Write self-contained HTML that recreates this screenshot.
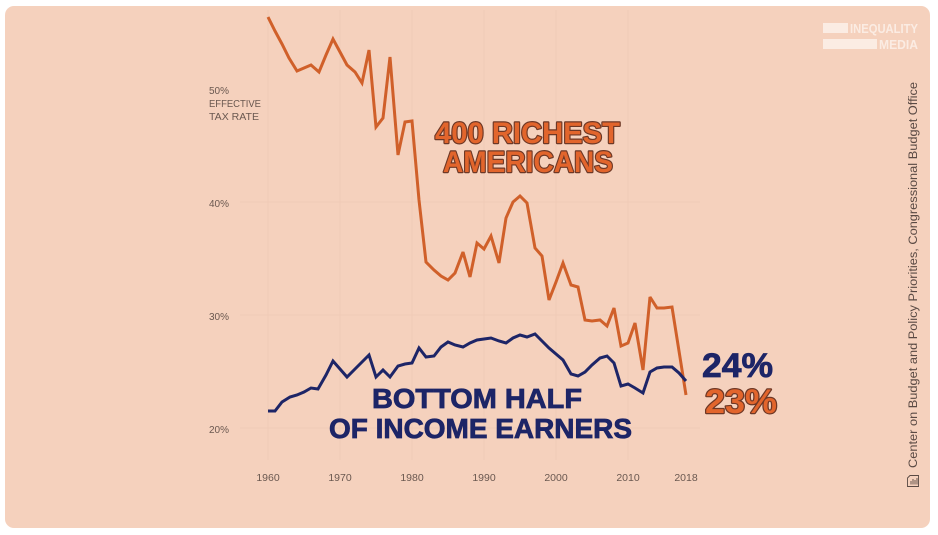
<!DOCTYPE html>
<html><head><meta charset="utf-8">
<style>
html,body{margin:0;padding:0;background:#fff;}
svg{display:block;}
</style></head>
<body>
<svg width="938" height="535" viewBox="0 0 938 535" xmlns="http://www.w3.org/2000/svg">
  <rect x="0" y="0" width="938" height="535" fill="#ffffff"/>
  <rect x="5" y="6" width="925" height="522" rx="9" ry="9" fill="#f5d1bd"/>

  <!-- faint grid -->
  <g stroke="#ecc5b0" stroke-width="1" fill="none" opacity="0.5">
    <line x1="240" y1="428" x2="700" y2="428"/>
    <line x1="240" y1="315" x2="700" y2="315"/>
    <line x1="240" y1="202" x2="700" y2="202"/>
    <line x1="268" y1="10" x2="268" y2="460"/>
    <line x1="340" y1="10" x2="340" y2="460"/>
    <line x1="412" y1="10" x2="412" y2="460"/>
    <line x1="484" y1="10" x2="484" y2="460"/>
    <line x1="556" y1="10" x2="556" y2="460"/>
    <line x1="628" y1="10" x2="628" y2="460"/>
  </g>

  <!-- y labels -->
  <g font-family="'Liberation Sans', sans-serif" font-size="10" fill="#6a5850">
    <text x="209" y="94" textLength="20" lengthAdjust="spacingAndGlyphs">50%</text>
    <text x="209" y="107" textLength="52" lengthAdjust="spacingAndGlyphs">EFFECTIVE</text>
    <text x="209" y="120" textLength="50" lengthAdjust="spacingAndGlyphs">TAX RATE</text>
    <text x="209" y="207" textLength="20" lengthAdjust="spacingAndGlyphs">40%</text>
    <text x="209" y="320" textLength="20" lengthAdjust="spacingAndGlyphs">30%</text>
    <text x="209" y="433" textLength="20" lengthAdjust="spacingAndGlyphs">20%</text>
  </g>
  <!-- x labels -->
  <g font-family="'Liberation Sans', sans-serif" font-size="10.5" fill="#6a5850" text-anchor="middle">
    <text x="268" y="481">1960</text>
    <text x="340" y="481">1970</text>
    <text x="412" y="481">1980</text>
    <text x="484" y="481">1990</text>
    <text x="556" y="481">2000</text>
    <text x="628" y="481">2010</text>
    <text x="686" y="481">2018</text>
  </g>

  <!-- orange series -->
  <polyline fill="none" stroke="#d0602a" stroke-width="3" stroke-linejoin="miter" stroke-miterlimit="3"
    points="268,17 275,31 282,44 289,58 297,71 304,68 311,65 319,72 326,55 333,39 340,52 347,65 355,72 362,83 369,50 376,127 383,118 390,57 398,155 405,122 412,121 419,200 426,262 434,270 441,276 448,280 455,273 463,252 470,277 477,243 484,249 491,236 499,263 506,218 513,202 520,196 527,203 535,248 542,256 549,300 556,282 563,263 571,285 578,287 585,320 592,321 600,320 607,326 614,308 621,346 628,343 635,323 643,370 650,297 657,308 664,308 672,307 679,351 686,395"/>

  <!-- navy series -->
  <polyline fill="none" stroke="#1d2567" stroke-width="3" stroke-linejoin="miter" stroke-miterlimit="3"
    points="268,411 275,411 282,402 290,397 297,395 304,392 311,388 318,389 326,375 333,361 340,369 347,377 355,369 362,362 369,355 376,377 383,370 390,377 398,366 405,364 412,363 419,348 426,357 434,356 441,347 448,342 455,345 463,347 470,343 477,340 484,339 491,338 499,341 506,343 513,338 520,335 527,337 535,334 542,341 549,348 556,354 563,360 571,374 578,376 585,372 592,365 600,358 607,356 614,363 621,386 628,384 635,388 643,393 650,372 657,368 664,367 672,367 679,373 686,381"/>

  <!-- orange title -->
  <g font-family="'Liberation Sans', sans-serif" font-weight="bold" font-size="30" fill="#e2652c" stroke="#6e3826" stroke-width="2.4" paint-order="stroke" stroke-linejoin="round">
    <text x="435" y="143" textLength="185" lengthAdjust="spacingAndGlyphs">400 RICHEST</text>
    <text x="443" y="172" textLength="170" lengthAdjust="spacingAndGlyphs">AMERICANS</text>
  </g>

  <!-- navy title -->
  <g font-family="'Liberation Sans', sans-serif" font-weight="bold" font-size="28" fill="#1d2567" stroke="#1d2567" stroke-width="0.8">
    <text x="372" y="408" textLength="210" lengthAdjust="spacingAndGlyphs">BOTTOM HALF</text>
    <text x="329" y="438" textLength="303" lengthAdjust="spacingAndGlyphs">OF INCOME EARNERS</text>
  </g>

  <!-- end labels -->
  <text x="702" y="377" font-family="'Liberation Sans', sans-serif" font-weight="bold" font-size="34" fill="#1d2567" stroke="#1d2567" stroke-width="0.8" textLength="71" lengthAdjust="spacingAndGlyphs">24%</text>
  <text x="705" y="413" font-family="'Liberation Sans', sans-serif" font-weight="bold" font-size="34" fill="#e2652c" stroke="#6e3826" stroke-width="2.4" paint-order="stroke" stroke-linejoin="round" textLength="72" lengthAdjust="spacingAndGlyphs">23%</text>

  <!-- logo -->
  <g fill="#fbece3">
    <rect x="823" y="23" width="25" height="10"/>
    <rect x="823" y="39" width="54" height="10"/>
    <text x="850" y="33" font-family="'Liberation Sans', sans-serif" font-weight="bold" font-size="12.5" textLength="68" lengthAdjust="spacingAndGlyphs">INEQUALITY</text>
    <text x="879" y="49" font-family="'Liberation Sans', sans-serif" font-weight="bold" font-size="12.5" textLength="39" lengthAdjust="spacingAndGlyphs">MEDIA</text>
  </g>

  <!-- source -->
  <text transform="translate(917,468) rotate(-90)" x="0" y="0" font-family="'Liberation Sans', sans-serif" font-size="11.5" fill="#5a4a44" textLength="386" lengthAdjust="spacingAndGlyphs">Center on Budget and Policy Priorities, Congressional Budget Office</text>
  <g fill="none" stroke="#5a4a44" stroke-width="0.9">
    <path d="M907.5,478 L910,475.5 L918.5,475.5 L918.5,486.5 L907.5,486.5 Z"/>
    <line x1="911" y1="484.5" x2="911" y2="481"/>
    <line x1="913" y1="484.5" x2="913" y2="479"/>
    <line x1="915" y1="484.5" x2="915" y2="480"/>
    <line x1="917" y1="484.5" x2="917" y2="478"/>
  </g>
</svg>
</body></html>
